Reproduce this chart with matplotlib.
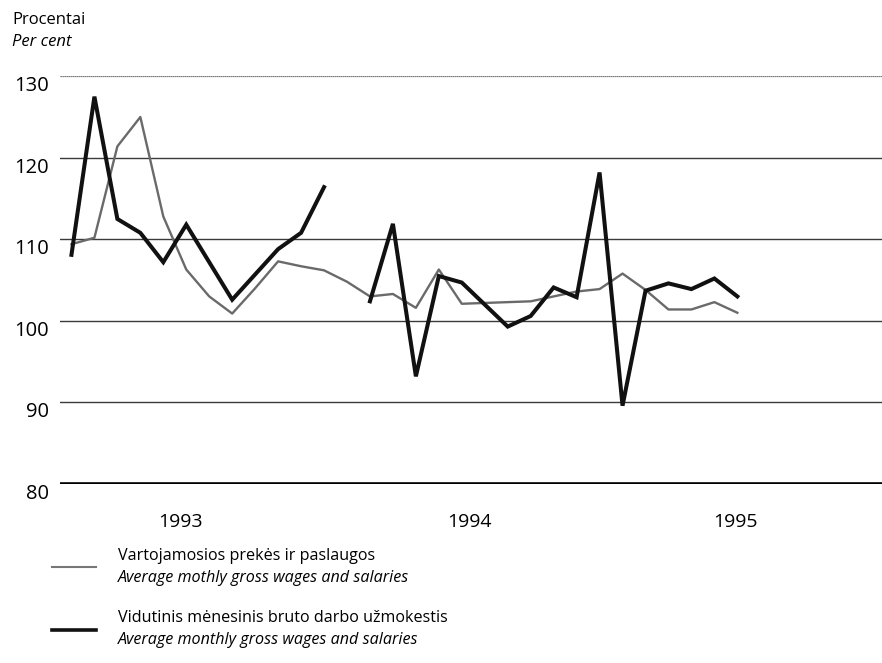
import numpy as np
import matplotlib
matplotlib.use('Agg')
import matplotlib.pyplot as plt
from matplotlib.lines import Line2D

plt.rcParams['font.family'] = ['Open Sans', 'DejaVu Sans']

# Monthly index, Jan 1993 .. Jun 1995
months = np.arange(30)

# Vartojamosios prekes ir paslaugos (grey)
consumer = [109.4, 110.2, 121.4, 125.0, 112.8, 106.3, 103.0, 100.9, 104.0, 107.3, 106.7, 106.2,
            104.8, 103.0, 103.3, 101.6, 106.3, 102.1, 102.2, 102.3, 102.4, 103.0, 103.6, 103.9,
            105.8, 103.8, 101.4, 101.4, 102.3, 101.0]

# Vidutinis menesinis bruto darbo uzmokestis (black), Jan 1994 missing
wages = [108.1, 127.5, 112.5, 110.8, 107.2, 111.8, 107.2, 102.6, 105.7, 108.8, 110.8, 116.4,
         np.nan, 102.4, 111.9, 93.2, 105.5, 104.7, 102.0, 99.3, 100.6, 104.1, 102.9, 118.2,
         89.6, 103.7, 104.6, 103.9, 105.2, 103.0]

years = ['1993', '1994', '1995']
year_pos = [4.75, 17.35, 28.9]
yticks = [80, 90, 100, 110, 120, 130]

fig = plt.figure(figsize=(8.82, 6.63), dpi=100)
ax = fig.add_axes([0.068, 0.270, 0.932, 0.615])

# grid lines
ax.axhline(130, color='#555555', lw=0.9, ls=(0, (1, 0.6)), zorder=1)
for v in [90, 100, 110, 120]:
    ax.axhline(v, color='#3a3a3a', lw=1.0, zorder=1)
ax.axhline(80, color='black', lw=2.6, zorder=1)

ax.plot(months, consumer, color='#6a6a6a', lw=1.7, zorder=3, clip_on=False)
ax.plot(months, np.array(wages, dtype=float), color='#111111', lw=2.9, zorder=4,
        solid_joinstyle='miter', clip_on=False)

ax.set_xlim(-0.5, 35.3)
ax.set_ylim(80, 130)

ax.set_yticks(yticks)
ax.set_yticklabels([str(v) for v in yticks], fontsize=14.5)
for lab in ax.get_yticklabels():
    lab.set_verticalalignment('top')
ax.tick_params(axis='y', length=0, pad=8)

ax.set_xticks(year_pos)
ax.set_xticklabels(years, fontsize=14)
ax.tick_params(axis='x', length=0, pad=21)

for s in ax.spines.values():
    s.set_visible(False)

# axis caption
fig.text(12 / 882, 1 - 20 / 663, 'Procentai', fontsize=12, va='center', ha='left')
fig.text(12 / 882, 1 - 42 / 663, 'Per cent', fontsize=12, style='italic', va='center', ha='left')

# legend
fig.add_artist(Line2D([52 / 882, 96 / 882], [1 - 567 / 663] * 2, color='#777777', lw=1.5))
fig.add_artist(Line2D([52 / 882, 96 / 882], [1 - 630 / 663] * 2, color='#111111', lw=2.6))
fig.text(118 / 882, 1 - 556 / 663, 'Vartojamosios prekės ir paslaugos', fontsize=11.6, va='center')
fig.text(118 / 882, 1 - 578 / 663, 'Average mothly gross wages and salaries', fontsize=11.6,
         style='italic', va='center')
fig.text(118 / 882, 1 - 618 / 663, 'Vidutinis mėnesinis bruto darbo užmokestis', fontsize=11.6,
         va='center')
fig.text(118 / 882, 1 - 640 / 663, 'Average monthly gross wages and salaries', fontsize=11.6,
         style='italic', va='center')

fig.savefig('out.png', dpi=100)
